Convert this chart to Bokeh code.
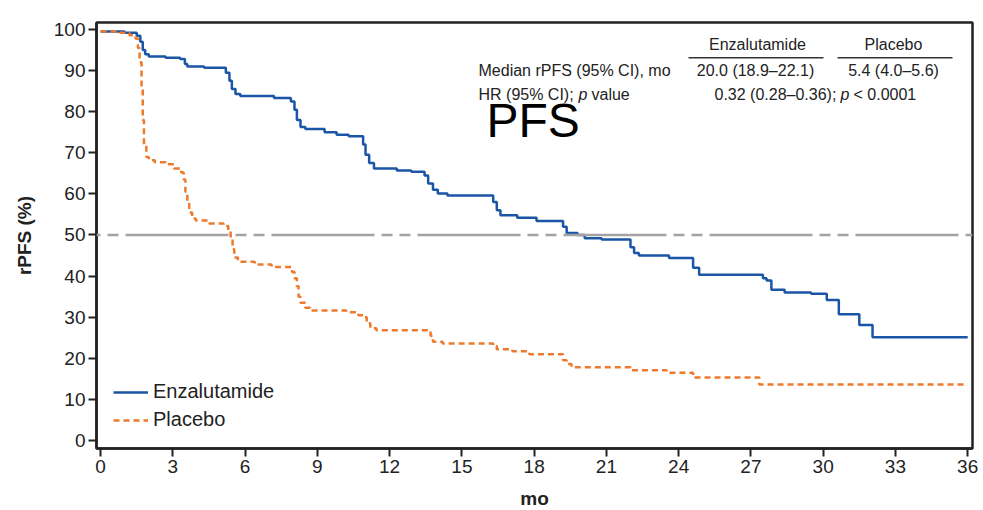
from bokeh.plotting import figure
from bokeh.models import (Range1d, FixedTicker, Span, Label, Legend, LegendItem,
                          BoxAnnotation)
from bokeh.embed import file_html
from bokeh.resources import INLINE

# ---- data ----
enz_t = [0, 1.0, 1.5, 1.65, 1.75, 1.85, 2.0, 2.7, 3.3, 3.5, 3.6, 4.3, 5.2, 5.35, 5.45,
         5.6, 5.8, 7.2, 7.9, 8.05, 8.15, 8.3, 8.5, 9.3, 9.8, 10.3, 10.9, 11.0, 11.15,
         11.35, 12.3, 12.9, 13.45, 13.6, 13.8, 14.0, 14.4, 16.3, 16.45, 16.6, 17.3,
         18.1, 19.2, 19.35, 19.8, 20.1, 20.8, 22.0, 22.15, 22.35, 23.6, 24.6, 24.85,
         27.5, 27.65, 27.85, 28.4, 29.5, 30.15, 30.65, 31.5, 32.05, 36.0]
enz_s = [99.5, 99.2, 98.5, 97.0, 95.0, 94.0, 93.4, 93.1, 92.8, 91.6, 91.0, 90.7, 89.5,
         87.5, 85.5, 84.3, 83.8, 83.3, 82.5, 80.5, 78.0, 76.3, 75.8, 75.0, 74.4, 74.0,
         72.0, 69.5, 67.5, 66.2, 65.7, 65.4, 64.5, 62.5, 61.0, 60.1, 59.6, 58.0, 56.0,
         54.8, 54.2, 53.4, 52.0, 50.5, 50.0, 49.2, 48.9, 47.0, 45.6, 45.0, 44.4, 42.0,
         40.3, 39.5, 38.9, 36.7, 36.0, 35.7, 34.2, 30.7, 28.1, 25.1, 25.1]

pla_t = [0, 0.8, 1.2, 1.45, 1.55, 1.62, 1.7, 1.75, 1.8, 1.9, 2.0, 2.25, 2.7, 3.05, 3.35,
         3.45, 3.52, 3.6, 3.68, 3.8, 3.95, 4.5, 5.1, 5.3, 5.4, 5.48, 5.55, 5.7, 6.4, 7.1,
         7.95, 8.05, 8.15, 8.22, 8.3, 8.5, 8.7, 10.2, 10.7, 10.95, 11.05, 11.2, 11.45,
         13.7, 13.8, 14.2, 16.3, 16.45, 17.1, 17.8, 19.2, 19.35, 19.55, 22.0, 23.5,
         24.6, 27.35, 36.0]
pla_s = [99.5, 99.2, 98.6, 97.8, 95.5, 92.0, 86.0, 78.0, 72.0, 69.0, 68.2, 67.7, 67.2,
         66.2, 65.2, 63.5, 60.5, 58.0, 55.5, 54.0, 53.5, 52.8, 52.2, 51.0, 49.0, 46.5,
         44.5, 43.5, 42.8, 42.2, 41.0, 39.5, 37.5, 35.0, 33.5, 32.3, 31.6, 31.2, 30.5,
         30.0, 28.5, 27.3, 26.8, 25.5, 24.0, 23.6, 23.0, 22.2, 21.7, 21.0, 19.5, 18.6,
         17.8, 17.1, 16.5, 15.3, 13.6, 13.6]

x_ticks = list(range(0, 37, 3))
y_ticks = list(range(0, 101, 10))
series_names = ["Enzalutamide", "Placebo"]
median_text = ["20.0 (18.9\u201322.1)", "5.4 (4.0\u20135.6)"]
hr_text = ["0.32 (0.28\u20130.36);", "p", "< 0.0001"]

BLUE = "#1a55a6"
ORANGE = "#ee7a2d"
GRAY = "#a2a2a2"
INK = "#222222"
FONT = "Liberation Sans"

p = figure(frame_width=876, frame_height=426, output_backend="svg",
           toolbar_location=None, x_range=Range1d(-0.17, 36.2),
           y_range=Range1d(-1.95, 101.7), min_border_left=96, min_border_top=22,
           min_border_right=11, min_border_bottom=62)
p.grid.visible = False
p.outline_line_color = INK
p.outline_line_width = 2.5
p.background_fill_color = "white"
p.border_fill_color = "white"

for ax in (p.xaxis[0], p.yaxis[0]):
    ax.axis_line_color = INK
    ax.axis_line_width = 2.5
    ax.major_tick_line_color = INK
    ax.major_tick_line_width = 2
    ax.major_tick_out = 8
    ax.major_tick_in = 0
    ax.minor_tick_line_color = None
    ax.major_label_text_font = FONT
    ax.major_label_text_font_size = "19px"
    ax.major_label_text_color = INK
    ax.axis_label_text_font = FONT
    ax.axis_label_text_font_size = "19px"
    ax.axis_label_text_font_style = "bold"
    ax.axis_label_text_color = INK

p.xaxis[0].ticker = FixedTicker(ticks=x_ticks)
p.yaxis[0].ticker = FixedTicker(ticks=y_ticks)
p.xaxis[0].axis_label = "mo"
p.yaxis[0].axis_label = "rPFS (%)"
p.xaxis[0].major_label_standoff = 3
p.yaxis[0].major_label_standoff = 3
p.xaxis[0].axis_label_standoff = 12
p.yaxis[0].axis_label_standoff = 16

# 50% reference line
p.add_layout(Span(location=50, dimension="width", line_color=GRAY, line_width=2.5,
                  line_dash="103 7 11 7 11 7", line_dash_offset=117))

r_pla = p.step(pla_t, pla_s, mode="after", line_color=ORANGE, line_width=2.5,
               line_dash="6 4")
r_enz = p.step(enz_t, enz_s, mode="after", line_color=BLUE, line_width=2.5)
# keep placebo drawn above at the start
p.renderers.remove(r_pla)
p.renderers.append(r_pla)

legend = Legend(items=[LegendItem(label=series_names[0], renderers=[r_enz]),
                       LegendItem(label=series_names[1], renderers=[r_pla])],
                location=(17, 17), padding=0, margin=0, spacing=5,
                glyph_width=35, glyph_height=20, label_height=20, label_standoff=5,
                border_line_alpha=0, background_fill_alpha=0,
                label_text_font=FONT, label_text_font_size="20px",
                label_text_color=INK)
p.add_layout(legend)

# ---- annotation table (screen units relative to frame bottom-left) ----
FL, FB = 96, 448  # frame left / bottom in page pixels


def lab(text, px, py, align="left", size="16px", style="normal", color=INK,
        font=FONT):
    p.add_layout(Label(x=px - FL, y=FB - py, x_units="screen", y_units="screen",
                       text=text, text_align=align, text_baseline="middle",
                       text_font=font, text_font_size=size, text_font_style=style,
                       text_color=color))


lab(series_names[0], 757, 44, align="center")
lab(series_names[1], 893, 44, align="center")
for l, r in ((688, 823), (837, 952)):
    p.add_layout(BoxAnnotation(left=l - FL, right=r - FL, bottom=FB - 58, top=FB - 56.5,
                               left_units="screen", right_units="screen",
                               bottom_units="screen", top_units="screen",
                               fill_color="#333333", fill_alpha=1, line_alpha=0))
lab("Median rPFS (95% CI), mo", 478, 70)
lab(median_text[0], 755, 70, align="center")
lab(median_text[1], 893, 70, align="center")
lab("HR (95% CI);", 478, 94)
lab("p", 578, 94, style="italic")
lab("value", 591, 94)
lab(hr_text[0], 714, 94)
lab(hr_text[1], 840, 94, style="italic")
lab(hr_text[2], 853, 94)
lab("PFS", 486, 120, size="48px", color="black")

open("out.html", "w").write(file_html(p, INLINE))
